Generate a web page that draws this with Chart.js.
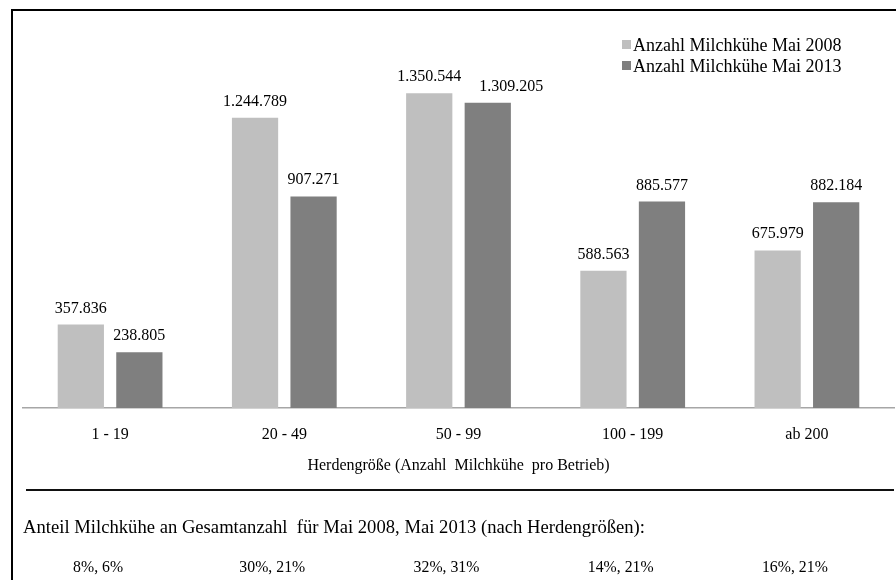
<!DOCTYPE html>
<html>
<head>
<meta charset="utf-8">
<script src="https://cdn.jsdelivr.net/npm/chart.js@4"></script>
<style>
  html, body { margin: 0; padding: 0; background: #fff; }
  #wrap { position: relative; width: 896px; height: 580px; }
</style>
</head>
<body>
<div id="wrap"><canvas id="c" width="896" height="580"></canvas></div>
<script>
// Herd size classes and dairy cow counts
const categories = ['1 - 19', '20 - 49', '50 - 99', '100 - 199', 'ab 200'];
const cows2008 = [357836, 1244789, 1350544, 588563, 675979];
const cows2013 = [238805, 907271, 1309205, 885577, 882184];
const seriesLabels = ['Anzahl Milchkühe Mai 2008', 'Anzahl Milchkühe Mai 2013'];
const shareLabels = ['8%, 6%', '30%, 21%', '32%, 31%', '14%, 21%', '16%, 21%'];
const axisTitle = 'Herdengröße (Anzahl  Milchkühe  pro Betrieb)';
const noteText = 'Anteil Milchkühe an Gesamtanzahl  für Mai 2008, Mai 2013 (nach Herdengrößen):';

const SERIF = '"Liberation Serif", "Times New Roman", serif';
const fmt = v => v.toLocaleString('de-DE');

// value labels above each bar; a label that would collide with its
// neighbour in the same group is pushed to the right
const valueLabels = {
  id: 'valueLabels',
  afterDatasetsDraw(chart) {
    const ctx = chart.ctx;
    ctx.save();
    ctx.font = '16px ' + SERIF;
    ctx.fillStyle = '#000';
    ctx.textAlign = 'center';
    ctx.textBaseline = 'alphabetic';
    const n = chart.data.labels.length;
    for (let j = 0; j < n; j++) {
      let prevRight = -Infinity, prevY = null;
      chart.data.datasets.forEach((ds, i) => {
        const bar = chart.getDatasetMeta(i).data[j];
        const txt = fmt(ds.data[j]);
        const w = ctx.measureText(txt).width;
        let x = bar.x;
        const y = bar.y - 12;
        if (prevY !== null && Math.abs(prevY - y) < 18 && x - w / 2 < prevRight + 18) {
          x = prevRight + 18 + w / 2;
        }
        ctx.fillText(txt, x, y);
        prevRight = x + w / 2;
        prevY = y;
      });
    }
    ctx.restore();
  }
};

// frame, legend, separator and share row
const decorations = {
  id: 'decorations',
  afterDraw(chart) {
    const ctx = chart.ctx;
    const xs = chart.scales.x;
    ctx.save();
    // frame
    ctx.strokeStyle = '#000';
    ctx.lineWidth = 2;
    ctx.beginPath();
    ctx.moveTo(12, 580);
    ctx.lineTo(12, 10);
    ctx.lineTo(896, 10);
    ctx.stroke();

    // legend
    ctx.font = '18px ' + SERIF;
    ctx.textBaseline = 'middle';
    ctx.textAlign = 'left';
    chart.data.datasets.forEach((ds, i) => {
      const y = 45 + i * 21;
      ctx.fillStyle = ds.backgroundColor;
      ctx.fillRect(622, y - 5, 9, 9);
      ctx.fillStyle = '#000';
      ctx.fillText(ds.label, 633, y + 1);
    });

    // separator
    ctx.strokeStyle = '#111';
    ctx.lineWidth = 2;
    ctx.beginPath();
    ctx.moveTo(26, 490);
    ctx.lineTo(894, 490);
    ctx.stroke();

    // note line
    ctx.fillStyle = '#000';
    ctx.font = '18px ' + SERIF;
    ctx.textBaseline = 'middle';
    ctx.save();
    const w = ctx.measureText(noteText).width;
    const target = 622;
    ctx.translate(23, 528);
    ctx.scale(target / w, 1);
    ctx.fillText(noteText, 0, 0);
    ctx.restore();

    // shares per herd size
    ctx.font = '17px ' + SERIF;
    ctx.textAlign = 'center';
    shareLabels.forEach((t, i) => {
      ctx.save();
      ctx.translate(xs.getPixelForValue(i) - 12, 568);
      ctx.scale(0.93, 1);
      ctx.fillText(t, 0, 0);
      ctx.restore();
    });
    ctx.restore();
  }
};

new Chart(document.getElementById('c'), {
  type: 'bar',
  data: {
    labels: categories,
    datasets: [
      { label: seriesLabels[0], data: cows2008, backgroundColor: '#bfbfbf' },
      { label: seriesLabels[1], data: cows2013, backgroundColor: '#7f7f7f' }
    ]
  },
  options: {
    responsive: false,
    animation: false,
    devicePixelRatio: 1,
    layout: { padding: { left: 23, right: 2, top: 35, bottom: 0 } },
    categoryPercentage: 0.672,
    barPercentage: 0.79,
    plugins: {
      legend: { display: false },
      tooltip: { enabled: false }
    },
    scales: {
      y: {
        display: false,
        min: 0,
        max: 1600000
      },
      x: {
        grid: { display: false, drawTicks: false },
        border: { display: true, color: '#a6a6a6', width: 1.5 },
        ticks: {
          color: '#000',
          font: { family: SERIF, size: 16 },
          padding: 17
        },
        title: {
          display: true,
          text: axisTitle,
          color: '#000',
          font: { family: SERIF, size: 16 },
          padding: { top: 0, bottom: 105 }
        },
        afterFit(scale) { scale.height = 172; }
      }
    }
  },
  plugins: [valueLabels, decorations]
});
</script>
</body>
</html>
